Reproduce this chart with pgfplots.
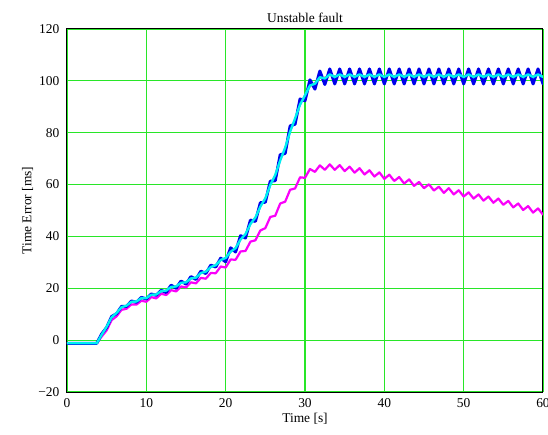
\documentclass[border=0pt]{standalone}
\usepackage{pgfplots}
\usepackage{pgfplotstable}
\pgfplotsset{compat=1.18}
\usepackage{fontspec}
\setmainfont{Liberation Serif}

\definecolor{gridgreen}{RGB}{40,230,40}
\definecolor{tblue}{RGB}{0,0,235}
\definecolor{tcyan}{RGB}{0,240,240}
\definecolor{tmag}{RGB}{250,0,250}

% x  base  blue  cyan  mag
\pgfplotstableread{
x base blue cyan mag
0 -1.2 -1.2 -1.2 -1.2
3.75 -1.2 -1.2 -1.2 -1.2
4.375 1.8 2.4 2.1 1.4
5.0 5.5 4.9 5.2 3.8
5.625 8.5 9.1 8.8 7.7
6.25 10.8 10.2 10.5 9.2
6.875 12.4 13.0 12.7 11.7
7.5 13.6 13.0 13.3 12.1
8.125 14.5 15.1 14.8 13.8
8.75 15.2 14.6 14.9 13.7
9.375 15.9 16.5 16.2 15.2
10.0 16.5 15.9 16.2 14.8
10.625 17.2 17.8 17.5 16.6
11.25 17.9 17.3 17.6 16.1
11.875 18.6 19.2 18.9 17.9
12.5 19.4 18.4 19.1 17.4
13.125 20.2 21.2 20.5 19.3
13.75 21.0 20.0 20.7 18.8
14.375 21.8 22.8 22.1 20.7
15.0 22.6 21.6 22.3 20.3
15.625 23.5 24.5 23.8 22.3
16.25 24.4 23.4 24.1 21.9
16.875 25.6 26.6 25.9 24.0
17.5 26.7 25.7 26.4 23.7
18.125 27.9 28.9 28.2 25.9
18.75 29.2 28.2 28.9 25.8
19.375 30.6 31.6 30.9 28.4
20.0 32.0 30.2 31.7 28.0
20.625 33.8 35.6 34.1 31.1
21.25 35.8 34.0 35.5 31.0
21.875 38.5 40.3 38.8 34.2
22.5 41.2 39.4 40.9 34.4
23.125 44.5 46.3 44.8 38.0
23.75 47.6 45.8 47.3 38.5
24.375 51.2 53.0 51.5 42.3
25.0 55.0 53.2 54.7 43.2
25.625 59.5 61.3 59.8 47.5
26.25 64.0 61.5 63.7 48.0
26.875 69.0 71.5 69.3 52.7
27.5 74.5 72.0 74.2 53.4
28.125 80.1 82.6 80.4 58.0
28.75 85.8 83.3 85.5 58.5
29.375 90.5 93.0 90.8 62.8
30.0 95.0 92.3 94.4 62.6
30.625 97.6 100.4 98.2 66.0
31.25 99.5 96.8 98.9 64.9
31.875 100.8 103.8 101.4 67.4
32.5 101.5 98.6 100.9 65.7
33.125 102 104.6 102.5 67.8
33.75 102 98.8 101.5 65.7
34.375 102 104.6 102.5 67.5
35.0 102 98.8 101.5 65.2
35.625 102 104.6 102.5 66.9
36.25 102 98.8 101.5 64.6
36.875 102 104.6 102.5 66.3
37.5 102 98.8 101.5 63.9
38.125 102 104.6 102.5 65.5
38.75 102 98.8 101.5 63.1
39.375 102 104.6 102.5 64.7
40.0 102 98.8 101.5 62.2
40.625 102 104.6 102.5 63.8
41.25 102 98.8 101.5 61.4
41.875 102 104.6 102.5 62.9
42.5 102 98.8 101.5 60.4
43.125 102 104.6 102.5 62.0
43.75 102 98.8 101.5 59.5
44.375 102 104.6 102.5 61.0
45.0 102 98.8 101.5 58.6
45.625 102 104.6 102.5 60.1
46.25 102 98.8 101.5 57.7
46.875 102 104.6 102.5 59.2
47.5 102 98.8 101.5 56.8
48.125 102 104.6 102.5 58.6
48.75 102 98.8 101.5 56.2
49.375 102 104.6 102.5 57.8
50.0 102 98.8 101.5 55.4
50.625 102 104.6 102.5 57.0
51.25 102 98.8 101.5 54.6
51.875 102 104.6 102.5 56.2
52.5 102 98.8 101.5 53.8
53.125 102 104.6 102.5 55.4
53.75 102 98.8 101.5 53.0
54.375 102 104.6 102.5 54.6
55.0 102 98.8 101.5 52.2
55.625 102 104.6 102.5 53.7
56.25 102 98.8 101.5 51.2
56.875 102 104.6 102.5 52.7
57.5 102 98.8 101.5 50.2
58.125 102 104.6 102.5 51.7
58.75 102 98.8 101.5 49.2
59.375 102 104.6 102.5 50.8
60.0 102 98.8 101.5 48.4
}\faultdata

\begin{document}
\fontsize{13.5}{16}\selectfont
\begin{tikzpicture}
\useasboundingbox (-67bp,-43bp) rectangle (481bp,392bp);
\begin{axis}[
  at={(0,0)}, anchor=south west,
  width=476bp, height=363bp, scale only axis,
  xmin=0, xmax=60, ymin=-20, ymax=120,
  xtick={0,10,...,60}, ytick={-20,0,...,120},
  yticklabels={−20,0,20,40,60,80,100,120},
  grid=major,
  major grid style={gridgreen, line width=1.1bp},
  major tick length=0pt,
  axis line style={black, line width=1bp},
  tick label style={font=\fontsize{13.5}{16}\selectfont},
  /pgf/number format/assume math mode=true,
  xticklabel style={yshift=-2bp},
  yticklabel style={xshift=-3bp},
  title={Unstable fault},
  title style={yshift=-4bp},
  xlabel={Time [s]}, ylabel={Time Error [ms]},
  xlabel style={yshift=4bp},
  ylabel style={yshift=-4bp},
  every axis plot/.append style={line join=round, line cap=round},
]
\addplot[tmag, line width=2.2bp] table[x=x, y=mag] {\faultdata};
\addplot[tblue, line width=3bp] table[x=x, y=blue] {\faultdata};
\addplot[red, line width=0.8bp, densely dotted] table[x=x, y=base] {\faultdata};
\addplot[tcyan, line width=2.4bp] table[x=x, y=cyan] {\faultdata};
\end{axis}
\end{tikzpicture}
\end{document}
